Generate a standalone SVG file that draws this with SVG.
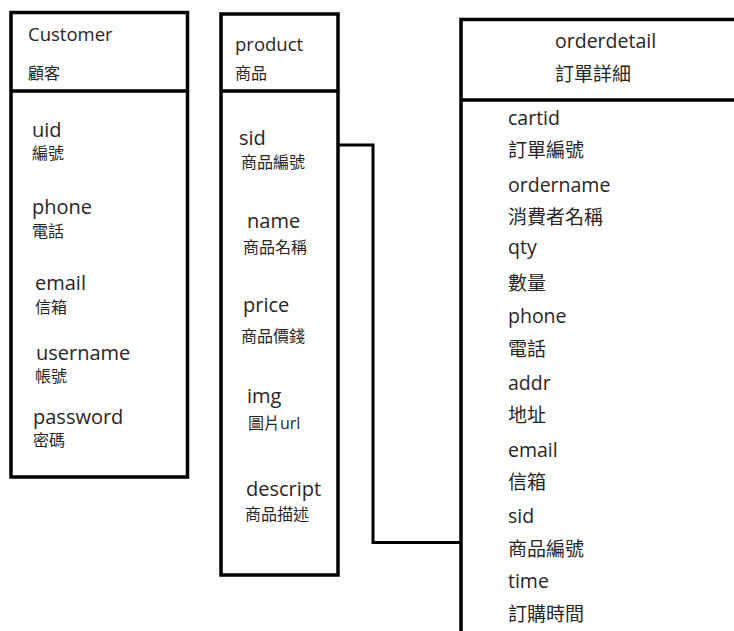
<svg xmlns="http://www.w3.org/2000/svg" width="734" height="631" viewBox="0 0 734 631">
<style>
.box{fill:none;stroke:#000;stroke-width:3.5}
.con{fill:none;stroke:#000;stroke-width:3}
text{font-family:"Open Sans","Noto Sans CJK TC",sans-serif;fill:#262626}
.en{font-size:20px}
.cj{font-size:16px}
.od{font-size:19.5px}
.odc{font-size:19px}
</style>
<rect width="734" height="631" fill="#fff"/>
<g id="customer">
<rect class="box" x="11" y="12.5" width="176.5" height="464.5" stroke-width="4"/>
<line class="box" x1="11" y1="91" x2="187.5" y2="91"/>
<text x="28" y="41" style="font-size:18.5px">Customer</text>
<text x="28" y="79" class="cj">顧客</text>
<text x="32" y="137" class="en">uid</text>
<text x="32" y="159" class="cj">編號</text>
<text x="32" y="214" class="en">phone</text>
<text x="32" y="237" class="cj">電話</text>
<text x="35" y="290" class="en">email</text>
<text x="35" y="313" class="cj">信箱</text>
<text x="36" y="360" class="en">username</text>
<text x="35" y="382" class="cj">帳號</text>
<text x="33" y="424" class="en">password</text>
<text x="33" y="446" class="cj">密碼</text>
</g>
<g id="product">
<rect class="box" x="221" y="14" width="117" height="561"/>
<line class="box" x1="221" y1="91" x2="338" y2="91"/>
<text x="235" y="51" style="font-size:18.5px">product</text>
<text x="235" y="79" class="cj">商品</text>
<text x="239" y="145" class="en">sid</text>
<text x="241" y="168" class="cj">商品編號</text>
<text x="247" y="228" class="en">name</text>
<text x="243" y="253" class="cj">商品名稱</text>
<text x="243" y="312" class="en">price</text>
<text x="241" y="342" class="cj">商品價錢</text>
<text x="247" y="403" class="en">img</text>
<text x="248" y="429" class="cj">圖片url</text>
<text x="246" y="496" class="en">descript</text>
<text x="245" y="520" class="cj">商品描述</text>
</g>
<g id="orderdetail">
<path class="box" d="M736 19.5 H461 V634"/>
<line class="box" x1="461" y1="100" x2="736" y2="100"/>
<text x="555" y="48" class="od">orderdetail</text>
<text x="555" y="81" class="odc">訂單詳細</text>
<text x="508" y="125" class="od">cartid</text>
<text x="508" y="157" class="odc">訂單編號</text>
<text x="508" y="192" class="od">ordername</text>
<text x="508" y="224" class="odc">消費者名稱</text>
<text x="508" y="254" class="od">qty</text>
<text x="508" y="290" class="odc">數量</text>
<text x="508" y="323" class="od">phone</text>
<text x="508" y="356" class="odc">電話</text>
<text x="508" y="390" class="od">addr</text>
<text x="508" y="422" class="odc">地址</text>
<text x="508" y="457" class="od">email</text>
<text x="508" y="489" class="odc">信箱</text>
<text x="508" y="523" class="od">sid</text>
<text x="508" y="556" class="odc">商品編號</text>
<text x="508" y="588" class="od">time</text>
<text x="508" y="621" class="odc">訂購時間</text>
</g>
<g id="connectors">
<path class="con" d="M338 145 H373 V542.5 H461"/>
</g>
</svg>
